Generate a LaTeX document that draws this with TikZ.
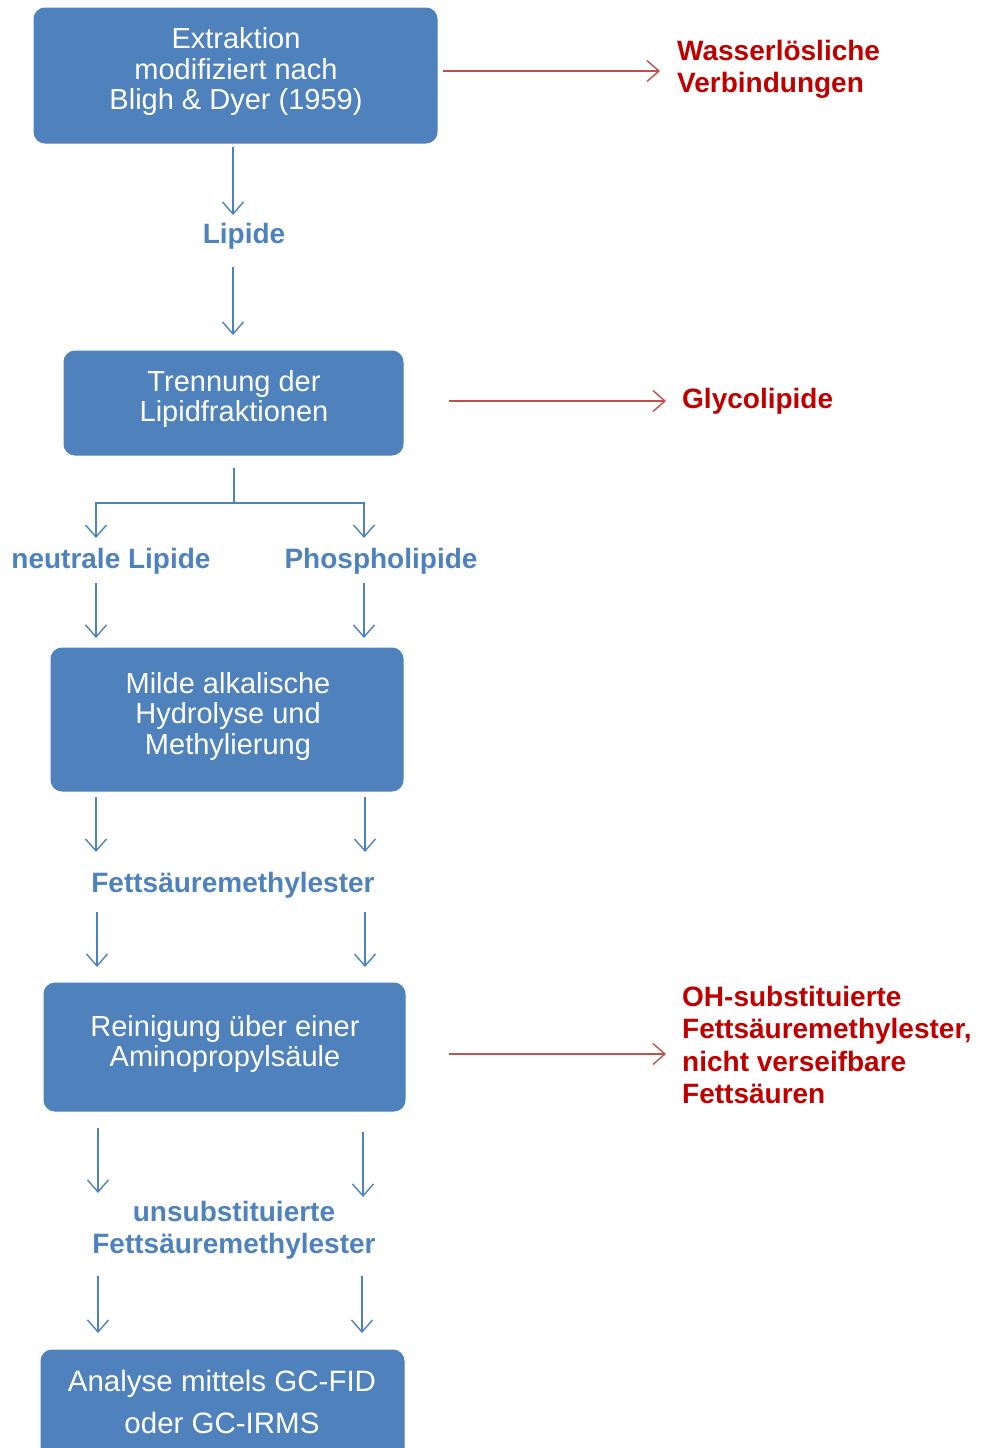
\documentclass[tikz,border=0pt]{standalone}
\usepackage{fontspec}
\setmainfont{Liberation Sans}
\usetikzlibrary{arrows.meta}
\definecolor{boxblue}{HTML}{4F81BD}
\definecolor{lblblue}{HTML}{4F81BD}
\definecolor{redtxt}{HTML}{C00000}
\definecolor{redline}{HTML}{C0504D}
\tikzset{
  box/.style={draw=boxblue, fill=boxblue, rounded corners=11pt, line width=1pt, inner sep=0pt},
  boxtext/.style={text=white, align=center, font=\fontsize{29}{30.5}\selectfont, inner sep=0pt},
  bluelbl/.style={text=lblblue, align=center, font=\bfseries\fontsize{28}{32}\selectfont, inner sep=0pt},
  redlbl/.style={text=redtxt, align=left, font=\bfseries\fontsize{28}{32.3}\selectfont, inner sep=0pt, anchor=west},
  barrow/.style={draw=boxblue, line width=1.4pt, -{Straight Barb[length=12pt, width=21pt, line width=1.4pt]}},
  bline/.style={draw=boxblue, line width=1.4pt},
  rarrow/.style={draw=redline, line width=1.4pt, -{Straight Barb[length=12pt, width=21pt, line width=1.4pt]}},
}
\begin{document}
\begin{tikzpicture}[x=1pt,y=-1pt]
\useasboundingbox (0,0) rectangle (980,1448);
\clip (0,0) rectangle (980,1448);
% boxes
\draw[box] (34,8) rectangle (437,143);
\node[boxtext] (t1) at (236,72) {Extraktion\\modifiziert nach\\Bligh \& Dyer (1959)};
\draw[box] (64,351) rectangle (403,455);
\node[boxtext] (t2) at (234,399) {Trennung der\\Lipidfraktionen};
\draw[box] (51,648) rectangle (403,791);
\node[boxtext] (t3) at (228,716) {Milde alkalische\\Hydrolyse und\\Methylierung};
\draw[box] (44,983) rectangle (405,1111);
\node[boxtext] (t4) at (225,1044) {Reinigung über einer\\Aminopropylsäule};
\draw[box] (41,1350) rectangle (404,1480);
\node[boxtext, font=\fontsize{29.5}{42}\selectfont] (t5) at (222,1402) {Analyse mittels GC-FID\\oder GC-IRMS};
% blue labels
\node[bluelbl] (lip) at (244,236) {Lipide};
\node[bluelbl] (nl) at (111,561) {neutrale Lipide};
\node[bluelbl] (pl) at (381,561) {Phospholipide};
\node[bluelbl] (fame) at (233,885) {Fettsäuremethylester};
\node[bluelbl] (ufame) at (234,1230) {unsubstituierte\\Fettsäuremethylester};
% red labels
\node[redlbl] (wl) at (677,69) {Wasserlösliche\\Verbindungen};
\node[redlbl] (gl) at (682,401) {Glycolipide};
\node[redlbl] (oh) at (682,1045) {OH-substituierte\\Fettsäuremethylester,\\nicht verseifbare\\Fettsäuren};
% coordinates
\coordinate (a1s) at (233,147); \coordinate (a1e) at (233,215);
\coordinate (a2s) at (233,267); \coordinate (a2e) at (233,335);
\coordinate (sp0) at (234,468); \coordinate (sp1) at (234,503);
\coordinate (spl) at (96,503); \coordinate (spr) at (364,503);
\coordinate (spla) at (96,538); \coordinate (spra) at (364,538);
\coordinate (n1s) at (96,583); \coordinate (n1e) at (96,638);
\coordinate (p1s) at (364,583); \coordinate (p1e) at (364,638);
\coordinate (m1s) at (96,797); \coordinate (m1e) at (96,852);
\coordinate (m2s) at (365,797); \coordinate (m2e) at (365,852);
\coordinate (f1s) at (97,912); \coordinate (f1e) at (97,967);
\coordinate (f2s) at (365,912); \coordinate (f2e) at (365,967);
\coordinate (r1s) at (98,1128); \coordinate (r1e) at (98,1193);
\coordinate (r2s) at (363,1132); \coordinate (r2e) at (363,1197);
\coordinate (u1s) at (98,1276); \coordinate (u1e) at (98,1333);
\coordinate (u2s) at (362,1276); \coordinate (u2e) at (362,1333);
\coordinate (w1s) at (443,71); \coordinate (w1e) at (660,71);
\coordinate (g1s) at (449,401); \coordinate (g1e) at (666,401);
\coordinate (o1s) at (449,1054); \coordinate (o1e) at (666,1054);
% blue arrows
\draw[barrow] (a1s) -- (a1e);
\draw[barrow] (a2s) -- (a2e);
\draw[bline] (sp0) -- (sp1);
\draw[barrow] (sp1) -- (spl) -- (spla);
\draw[barrow] (sp1) -- (spr) -- (spra);
\draw[barrow] (n1s) -- (n1e);
\draw[barrow] (p1s) -- (p1e);
\draw[barrow] (m1s) -- (m1e);
\draw[barrow] (m2s) -- (m2e);
\draw[barrow] (f1s) -- (f1e);
\draw[barrow] (f2s) -- (f2e);
\draw[barrow] (r1s) -- (r1e);
\draw[barrow] (r2s) -- (r2e);
\draw[barrow] (u1s) -- (u1e);
\draw[barrow] (u2s) -- (u2e);
% red arrows
\draw[rarrow] (w1s) -- (w1e);
\draw[rarrow] (g1s) -- (g1e);
\draw[rarrow] (o1s) -- (o1e);
\end{tikzpicture}
\end{document}
